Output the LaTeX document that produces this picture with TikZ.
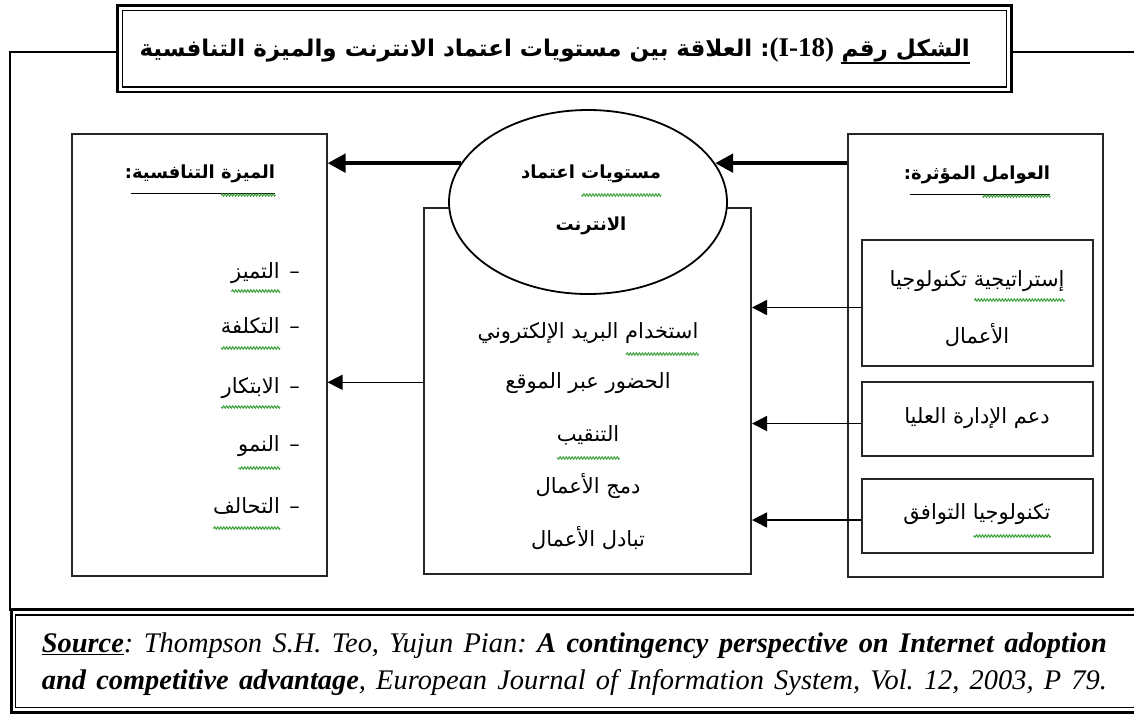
\documentclass[tikz,border=0pt]{standalone}
\usepackage{fontspec}
\setmainfont{Liberation Serif}
\newfontfamily\arfont[Script=Arabic]{DejaVu Sans}
\TeXXeTstate=1
\frenchspacing
\usetikzlibrary{arrows.meta,shapes.geometric,decorations.pathmorphing}
\definecolor{squiggreen}{RGB}{60,160,60}
\newcommand\RTL[1]{\beginR#1\endR}
\newcommand\bodyAr{\arfont\fontsize{21}{26}\selectfont}
\newcommand\headAr{\arfont\bfseries\fontsize{18}{24}\selectfont}
\newcommand\titleAr{\arfont\bfseries\fontsize{23}{30}\selectfont}
\newlength\wordw
% sets a word and keeps its width for the wavy mark drawn under it
\newcommand\mw[1]{\setbox0=\hbox{#1}\global\wordw=\wd0\relax\box0\relax}
\begin{document}
\begin{tikzpicture}[x=1pt,y=-1pt,
  box/.style={draw=black!85,line width=2pt,fill=white,inner sep=0pt},
  thinarr/.style={line width=1.5pt,-{Triangle[length=15pt,width=15pt]}},
  thickarr/.style={line width=4.5pt,-{Triangle[length=18pt,width=18pt]}},
  body/.style={font=\bodyAr,inner sep=0pt},
  head/.style={font=\headAr,inner sep=0pt},
  wavyline/.style={draw=squiggreen,line width=1pt,decorate,
    decoration={zigzag,amplitude=1.2pt,segment length=3pt}},
  uline/.style={line width=1.2pt},
  frame/.style={line width=2pt}]
\useasboundingbox (0,0) rectangle (1134,713);
\clip (0,0) rectangle (1134,713);

% outer frame and title box
\coordinate (fL) at (9.5,51.7);
\coordinate (fR) at (1140,51.7);
\coordinate (fB) at (9.5,611);
\node[draw,line width=2.7pt,fill=white,minimum width=894pt,minimum height=86.5pt,inner sep=0pt] (tbox) at (564.5,48.75) {};
\draw[line width=1.6pt] ([xshift=6.5pt,yshift=-6.5pt]tbox.north west) rectangle ([xshift=-6.5pt,yshift=6.5pt]tbox.south east);
\draw[frame] (fL -| tbox.west) -- (fL) -- (fB);
\draw[frame] (fL -| tbox.east) -- (fR);

\node[font=\titleAr,inner sep=0pt,anchor=base east] (tnum) at (970,56) {\RTL{الشكل رقم}};
\node[font=\titleAr,inner sep=0pt,anchor=base east] (trest) at ([xshift=-7pt]tnum.base west)
  {\RTL{\beginL{\rmfamily\bfseries\fontsize{27}{30}\selectfont(I-18)}\endL: العلاقة بين مستويات اعتماد الانترنت والميزة التنافسية}};
\draw[line width=1.5pt] ([yshift=-7pt]tnum.base west) -- ([yshift=-7pt]tnum.base east);

% main boxes
\node[box,minimum width=255pt,minimum height=442pt] (lbox) at (199,355) {};
\node[box,minimum width=327.5pt,minimum height=366pt] (cbox) at (587.25,390.5) {};
\node[box,minimum width=254.5pt,minimum height=443pt] (rbox) at (975.25,355.5) {};
\node[box,minimum width=230.5pt,minimum height=126pt] (box1) at (977.25,303) {};
\node[box,minimum width=230.5pt,minimum height=74pt] (box2) at (977.25,419) {};
\node[box,minimum width=230.5pt,minimum height=74pt] (box3) at (977.25,516) {};
\node[draw,ellipse,fill=white,line width=1.8pt,minimum width=278pt,minimum height=184pt,inner sep=0pt] (ell) at (588,202) {};

% connectors
\draw[thickarr] (ell.17 -| rbox.west) -- (ell.17);
\draw[thickarr] (ell.163) -- (ell.163 -| lbox.east);
\coordinate (a1) at ([yshift=-4.5pt]box1.west);
\coordinate (a2) at ([yshift=-4.5pt]box2.west);
\coordinate (a3) at ([yshift=-4pt]box3.west);
\coordinate (a4) at ([yshift=8.2pt]cbox.west);
\draw[thinarr] (a1) -- (a1 -| cbox.east);
\draw[thinarr] (a2) -- (a2 -| cbox.east);
\draw[thinarr] (a3) -- (a3 -| cbox.east);
\draw[thinarr] (a4) -- (a4 -| lbox.east);

% left box: competitive advantage
\node[head,anchor=base] (lt) at (200,178) {\RTL{\mw{الميزة} التنافسية:}};
\draw[uline] ([yshift=-15.5pt,xshift=6pt]lt.base west) -- ([yshift=-15.5pt]lt.base east);
\draw[wavyline] ([yshift=-17pt]lt.base east) -- ++(-\wordw,0);
\node[body,anchor=base east] (d1) at (300,278) {–};
\node[body,anchor=base east] (i1) at (280,278) {\RTL{التميز}};
\node[body,anchor=base east] (d2) at (300,333) {–};
\node[body,anchor=base east] (i2) at (280,333) {\RTL{التكلفة}};
\node[body,anchor=base east] (d3) at (300,393) {–};
\node[body,anchor=base east] (i3) at (280,393) {\RTL{الابتكار}};
\node[body,anchor=base east] (d4) at (300,451) {–};
\node[body,anchor=base east] (i4) at (280,451) {\RTL{النمو}};
\node[body,anchor=base east] (d5) at (300,513) {–};
\node[body,anchor=base east] (i5) at (280,513) {\RTL{التحالف}};
\draw[wavyline] ([yshift=-13pt]i1.base east) -- ([yshift=-13pt]i1.base west);
\draw[wavyline] ([yshift=-15pt]i2.base east) -- ([yshift=-15pt]i2.base west);
\draw[wavyline] ([yshift=-14pt]i3.base east) -- ([yshift=-14pt]i3.base west);
\draw[wavyline] ([yshift=-17pt]i4.base east) -- ([yshift=-17pt]i4.base west);
\draw[wavyline] ([yshift=-15pt]i5.base east) -- ([yshift=-15pt]i5.base west);

% ellipse and centre box
\node[head,anchor=base] (e1) at (591,178) {\RTL{\mw{مستويات} اعتماد}};
\draw[wavyline] ([yshift=-17pt]e1.base east) -- ++(-\wordw,0);
\node[head,anchor=base] (e2) at (591,230) {\RTL{الانترنت}};
\node[body,anchor=base] (c1) at (588,338) {\RTL{\mw{استخدام} البريد الإلكتروني}};
\draw[wavyline] ([yshift=-16pt]c1.base east) -- ++(-\wordw,0);
\node[body,anchor=base] (c2) at (588,388) {\RTL{الحضور عبر الموقع}};
\node[body,anchor=base] (c3) at (588,441) {\RTL{التنقيب}};
\node[body,anchor=base] (c4) at (588,493) {\RTL{دمج الأعمال}};
\node[body,anchor=base] (c5) at (588,546) {\RTL{تبادل الأعمال}};
\draw[wavyline] ([yshift=-17pt]c3.base east) -- ([yshift=-17pt]c3.base west);

% right box: influencing factors
\node[head,anchor=base] (rt) at (977,179) {\RTL{\mw{العوامل} المؤثرة:}};
\draw[uline] ([yshift=-15.5pt,xshift=6pt]rt.base west) -- ([yshift=-15.5pt]rt.base east);
\draw[wavyline] ([yshift=-17pt]rt.base east) -- ++(-\wordw,0);
\node[body,anchor=base] (b1a) at (977,286) {\RTL{\mw{إستراتيجية} تكنولوجيا}};
\draw[wavyline] ([yshift=-14pt]b1a.base east) -- ++(-\wordw,0);
\node[body,anchor=base] (b1b) at (977,343) {\RTL{الأعمال}};
\node[body,anchor=base] (b2) at (977,423) {\RTL{دعم الإدارة العليا}};
\node[body,anchor=base] (b3) at (977,519) {\RTL{\mw{تكنولوجيا} التوافق}};
\draw[wavyline] ([yshift=-17pt]b3.base east) -- ++(-\wordw,0);

% source box
\draw[line width=3pt] (11.5,609.5) rectangle (1150,712);
\draw[line width=1.5pt] (15.5,615) rectangle (1150,707.5);
\node[inner sep=0pt,anchor=base west,font=\fontsize{28.4}{33}\selectfont] (s1) at (41.7,652)
  {\makebox[1065pt][s]{\underline{\textbf{\textit{Source}}}\textit{: Thompson S.H. Teo, Yujun Pian: }\textbf{\textit{A contingency perspective on Internet adoption}}}};
\node[inner sep=0pt,anchor=base west,font=\fontsize{28.4}{33}\selectfont] (s2) at (41.7,689)
  {\makebox[1065pt][s]{\textbf{\textit{and competitive advantage}}\textit{, European Journal of Information System, Vol. 12, 2003, P 79.}}};
\end{tikzpicture}
\end{document}
